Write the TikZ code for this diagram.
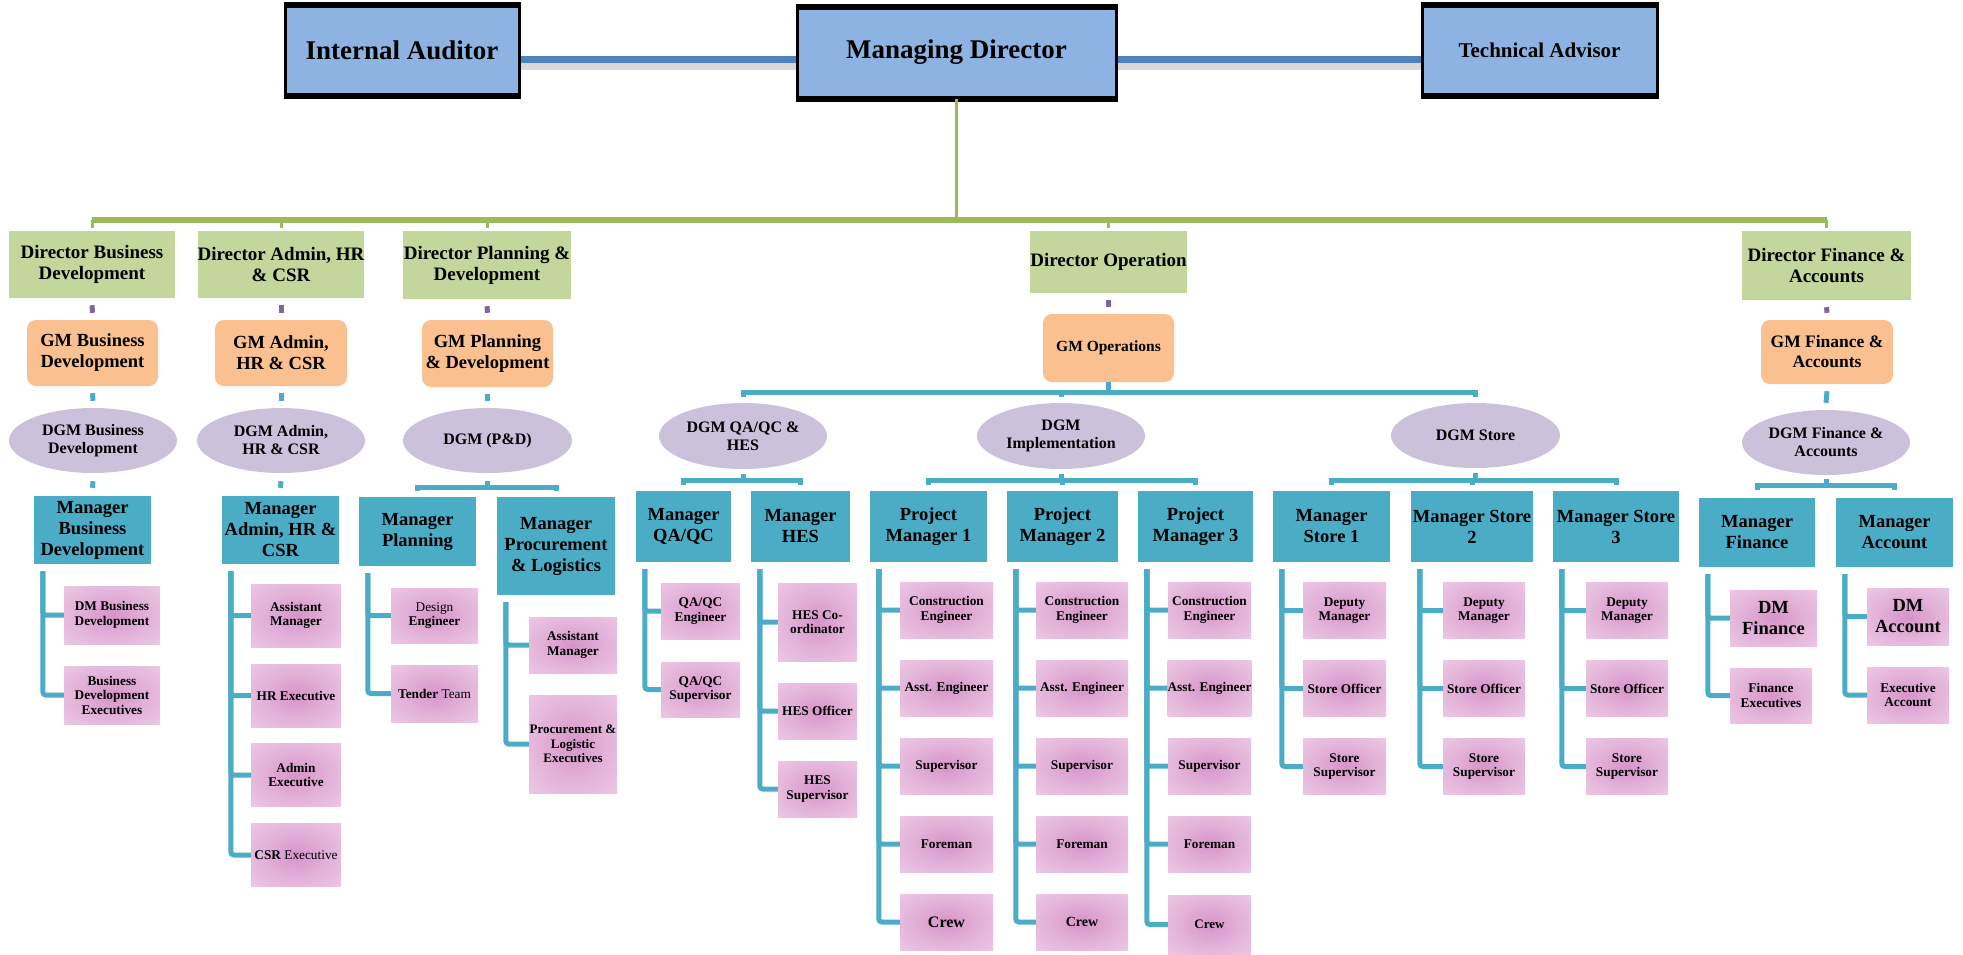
\documentclass[tikz,border=0pt]{standalone}
\usepackage{fontspec}
\setmainfont{Liberation Serif}
\usetikzlibrary{shapes.geometric}

\definecolor{topblue}{RGB}{141,179,226}
\definecolor{linkblue}{RGB}{79,129,189}
\definecolor{bargreen}{RGB}{155,187,89}
\definecolor{dirgreen}{RGB}{195,214,155}
\definecolor{gmorange}{RGB}{250,192,144}
\definecolor{dgmpurple}{RGB}{204,193,218}
\definecolor{mgrteal}{RGB}{75,172,198}
\definecolor{tickpurple}{RGB}{128,100,162}
\definecolor{pinkin}{RGB}{214,148,202}
\definecolor{pinkout}{RGB}{241,212,234}

\pgfdeclareradialshading{pinkglow}{\pgfpoint{0bp}{0bp}}{color(0bp)=(pinkin); color(18bp)=(pinkin!55!pinkout); color(45bp)=(pinkout); color(50bp)=(pinkout)}

\tikzset{
  sz/.style 2 args={minimum width=#1pt,minimum height=#2pt},
  fs/.style 2 args={font=\fontsize{#1}{#2}\selectfont\bfseries},
  box/.style={inner sep=0pt,align=center,text=black},
  topbox/.style={box,fill=topblue,draw=black,line width=3pt},
  dirbox/.style={box,fill=dirgreen,fs={19}{21}},
  gmbox/.style={box,fill=gmorange,rounded corners=9pt,fs={18.5}{21}},
  dgmbox/.style={box,ellipse,fill=dgmpurple,fs={16}{18}},
  mgrbox/.style={box,fill=mgrteal,fs={18.5}{21}},
  staff/.style={box,shade,shading=pinkglow,fs={13.3}{14.5}},
  tealline/.style={draw=mgrteal,line width=5pt},
  purpletick/.style={draw=tickpurple,line width=5pt},
  greenline/.style={draw=bargreen,line width=3pt},
}

\begin{document}
\begin{tikzpicture}[x=1pt,y=-1pt]
\useasboundingbox (0,0) rectangle (1963,954);

% top row
\node[topbox,sz={234}{88},fs={27}{30}] (ia) at (402,50) {Internal Auditor};
\node[topbox,sz={319}{89},fs={27}{30}] (md) at (956.5,52.5) {Managing Director};
\node[topbox,sz={235}{88},fs={21}{24}] (ta) at (1539.5,50) {Technical Advisor};
\foreach \n in {ia,md,ta}
  \draw[line width=6pt] (\n.north west) -- (\n.north east) (\n.south west) -- (\n.south east);

\coordinate (linkL) at ([yshift=-9pt]ia.east);
\draw[black!30,line width=9pt,opacity=.5] ([yshift=-6pt]linkL) -- ([yshift=-6pt]linkL -| md.west)
  ([yshift=-6pt]linkL -| md.east) -- ([yshift=-6pt]linkL -| ta.west);
\draw[linkblue,line width=7pt] (linkL) -- (linkL -| md.west) (linkL -| md.east) -- (linkL -| ta.west);

% directors
\node[dirbox,sz={166}{67}] (dbd) at (92,264.5) {Director Business\\Development};
\node[dirbox,sz={166}{67}] (dad) at (281,264.5) {Director Admin, HR\\\& CSR};
\node[dirbox,sz={168}{68}] (dpd) at (487,265) {Director Planning \&\\Development};
\node[dirbox,sz={153}{62}] (dop) at (1108.5,262) {Director Operation};
\node[dirbox,sz={169}{69}] (dfa) at (1826.5,265.5) {Director Finance \&\\Accounts};

\coordinate (bar) at (0,220);
\draw[greenline] (md.south) -- (md.south |- bar);
\draw[bargreen,line width=6pt] (dbd.north |- bar) -- (dfa.north |- bar);
\foreach \d in {dbd,dad,dpd,dop,dfa}
  \draw[greenline] (\d.north |- bar) -- ([yshift=3pt]\d.north);

% general managers
\node[gmbox,sz={131}{66}] (gbd) at (92.5,353) {GM Business\\Development};
\node[gmbox,sz={132}{66}] (gad) at (281,353) {GM Admin,\\HR \& CSR};
\node[gmbox,sz={131}{67}] (gpd) at (487.5,353.5) {GM Planning\\\& Development};
\node[gmbox,sz={131}{68},fs={15.5}{18}] (gop) at (1108.5,348) {GM Operations};
\node[gmbox,sz={132}{64},fs={17.5}{20}] (gfa) at (1827,352) {GM Finance \&\\Accounts};
\foreach \d/\g in {dbd/gbd,dad/gad,dpd/gpd,dop/gop,dfa/gfa}
  \draw[purpletick] ([yshift=-7pt]\d.south) -- ([yshift=7pt]\g.north);

% deputy general managers
\node[dgmbox,sz={168}{65}] (ebd) at (93,440.5) {DGM Business\\Development};
\node[dgmbox,sz={168}{65}] (ead) at (281,440.5) {DGM Admin,\\HR \& CSR};
\node[dgmbox,sz={169}{65}] (epd) at (487.5,440.5) {DGM (P\&D)};
\node[dgmbox,sz={168}{66}] (eqa) at (743,436) {DGM QA/QC \&\\HES};
\node[dgmbox,sz={168}{66}] (eim) at (1061,436) {DGM\\Implementation};
\node[dgmbox,sz={169}{65}] (est) at (1475.5,435.5) {DGM Store};
\node[dgmbox,sz={168}{65}] (efa) at (1826,442.5) {DGM Finance \&\\Accounts};
\foreach \g/\e in {gbd/ebd,gad/ead,gpd/epd,gfa/efa}
  \draw[tealline] ([yshift=-7pt]\g.south) -- ([yshift=7pt]\e.north);

\coordinate (opsbar) at ([yshift=-10pt]gop.south);
\draw[tealline] (gop.south) -- (opsbar);
\draw[tealline] ([yshift=6pt]eqa.north) |- (opsbar) -| ([yshift=6pt]est.north);
\draw[tealline] (opsbar -| eim.north) -- ([yshift=6pt]eim.north);

% managers
\node[mgrbox,sz={117}{68}] (mbd) at (92.5,530) {Manager\\Business\\Development};
\node[mgrbox,sz={117}{68}] (mad) at (280.5,530) {Manager\\Admin, HR \&\\CSR};
\node[mgrbox,sz={117}{69}] (mpl) at (417.5,531.5) {Manager\\Planning};
\node[mgrbox,sz={118}{98}] (mpr) at (556,546) {Manager\\Procurement\\\& Logistics};
\node[mgrbox,sz={95}{71}] (mqa) at (683.5,526.5) {Manager\\QA/QC};
\node[mgrbox,sz={99}{71}] (mhe) at (800.5,526.5) {Manager\\HES};
\node[mgrbox,sz={117}{71}] (pm1) at (928.5,526.5) {Project\\Manager 1};
\node[mgrbox,sz={111}{71}] (pm2) at (1062.5,526.5) {Project\\Manager 2};
\node[mgrbox,sz={115}{71}] (pm3) at (1195.5,526.5) {Project\\Manager 3};
\node[mgrbox,sz={117}{71}] (ms1) at (1331.5,526.5) {Manager\\Store 1};
\node[mgrbox,sz={122}{71}] (ms2) at (1472,526.5) {Manager Store\\2};
\node[mgrbox,sz={126}{71}] (ms3) at (1616,526.5) {Manager Store\\3};
\node[mgrbox,sz={116}{69}] (mfi) at (1757,532.5) {Manager\\Finance};
\node[mgrbox,sz={117}{69}] (mac) at (1894.5,532.5) {Manager\\Account};

\draw[tealline] ([yshift=-8pt]ebd.south) -- ([yshift=8pt]mbd.north);
\draw[tealline] ([yshift=-8pt]ead.south) -- ([yshift=8pt]mad.north);

\coordinate (pdbar) at ([yshift=-14pt]epd.south);
\draw[tealline] ([yshift=-8pt]epd.south) -- (pdbar);
\draw[tealline] ([yshift=6pt]mpl.north) |- (pdbar) -| ([yshift=6pt]mpr.north);

\coordinate (qabar) at ([yshift=-11pt]eqa.south);
\draw[tealline] ([yshift=-5pt]eqa.south) -- (qabar);
\draw[tealline] ([yshift=6pt]mqa.north) |- (qabar) -| ([yshift=6pt]mhe.north);

\coordinate (imbar) at ([yshift=-11pt]eim.south);
\draw[tealline] ([yshift=-5pt]eim.south) -- (imbar);
\draw[tealline] ([yshift=6pt]pm1.north) |- (imbar) -| ([yshift=6pt]pm3.north);
\draw[tealline] (imbar -| pm2.north) -- ([yshift=6pt]pm2.north);

\coordinate (stbar) at ([yshift=-12pt]est.south);
\draw[tealline] ([yshift=-5pt]est.south) -- (stbar);
\draw[tealline] ([yshift=6pt]ms1.north) |- (stbar) -| ([yshift=6pt]ms3.north);
\draw[tealline] (stbar -| ms2.north) -- ([yshift=6pt]ms2.north);

\coordinate (fabar) at ([yshift=-10pt]efa.south);
\draw[tealline] ([yshift=-4pt]efa.south) -- (fabar);
\draw[tealline] ([yshift=8pt]mfi.north) |- (fabar) -| ([yshift=8pt]mac.north);

% staff
\node[staff,sz={96}{58}] (sbd1) at (112,615) {DM Business\\Development};
\node[staff,sz={96}{58}] (sbd2) at (112,695) {Business\\Development\\Executives};

\node[staff,sz={90}{63}] (sad1) at (296,615.5) {Assistant\\Manager};
\node[staff,sz={90}{63}] (sad2) at (296,695.5) {HR Executive};
\node[staff,sz={90}{63}] (sad3) at (296,775) {Admin\\Executive};
\node[staff,sz={90}{63}] (sad4) at (296,855) {CSR \mdseries Executive};

\node[staff,sz={87}{55}] (spl1) at (434.5,615.5) {\mdseries Design\\Engineer};
\node[staff,sz={87}{57}] (spl2) at (434.5,693.5) {Tender \mdseries Team};

\node[staff,sz={88}{56}] (spr1) at (573,645) {Assistant\\Manager};
\node[staff,sz={88}{98},fs={13}{14.5}] (spr2) at (573,744) {Procurement \&\\Logistic\\Executives};

\node[staff,sz={79}{56}] (sqa1) at (700.5,611) {QA/QC\\Engineer};
\node[staff,sz={79}{55}] (sqa2) at (700.5,689.5) {QA/QC\\Supervisor};

\node[staff,sz={79}{78}] (she1) at (817.5,622) {HES Co-\\ordinator};
\node[staff,sz={79}{56}] (she2) at (817.5,711) {HES Officer};
\node[staff,sz={79}{56}] (she3) at (817.5,789) {HES\\Supervisor};

\foreach \col/\cx/\w in {pa/946.5/93,pb/1082/92,pc/1209.5/83}
  \foreach \lab [count=\r] in {{Construction\\Engineer},{Asst. Engineer},Supervisor,Foreman}
    \node[staff,sz={\w}{56}] (\col\r) at (\cx,{610+78*(\r-1)}) {\lab};
\node[staff,sz={93}{56},fs={16}{18}] (pa5) at (946.5,922) {Crew};
\node[staff,sz={92}{56},fs={14}{16}] (pb5) at (1082,922) {Crew};
\node[staff,sz={83}{59},fs={13}{15}] (pc5) at (1209.5,924.5) {Crew};

\foreach \col/\cx/\w in {sa/1344.5/83,sb/1484/82,sc/1627/82}
  \foreach \lab [count=\r] in {{Deputy\\Manager},{Store Officer},{Store\\Supervisor}}
    \node[staff,sz={\w}{56}] (\col\r) at (\cx,{610.5+78*(\r-1)}) {\lab};

\node[staff,sz={87}{56},fs={18.5}{21}] (sfi1) at (1773.5,618) {DM\\Finance};
\node[staff,sz={82}{55}] (sfi2) at (1771,695.5) {Finance\\Executives};
\node[staff,sz={82}{57},fs={18.5}{21}] (sac1) at (1908,616.5) {DM\\Account};
\node[staff,sz={82}{56}] (sac2) at (1908,695) {Executive\\Account};

\foreach \m/\kids in {mbd/{sbd1,sbd2},mad/{sad1,sad2,sad3,sad4},mpl/{spl1,spl2},
    mpr/{spr1,spr2},mqa/{sqa1,sqa2},mhe/{she1,she2,she3},
    pm1/{pa1,pa2,pa3,pa4,pa5},pm2/{pb1,pb2,pb3,pb4,pb5},pm3/{pc1,pc2,pc3,pc4,pc5},
    ms1/{sa1,sa2,sa3},ms2/{sb1,sb2,sb3},ms3/{sc1,sc2,sc3},
    mfi/{sfi1,sfi2},mac/{sac1,sac2}}
  \foreach \k in \kids
    \draw[tealline,rounded corners=3pt] ([xshift=9pt,yshift=-7pt]\m.south west) |- (\k.west);

\end{tikzpicture}
\end{document}
